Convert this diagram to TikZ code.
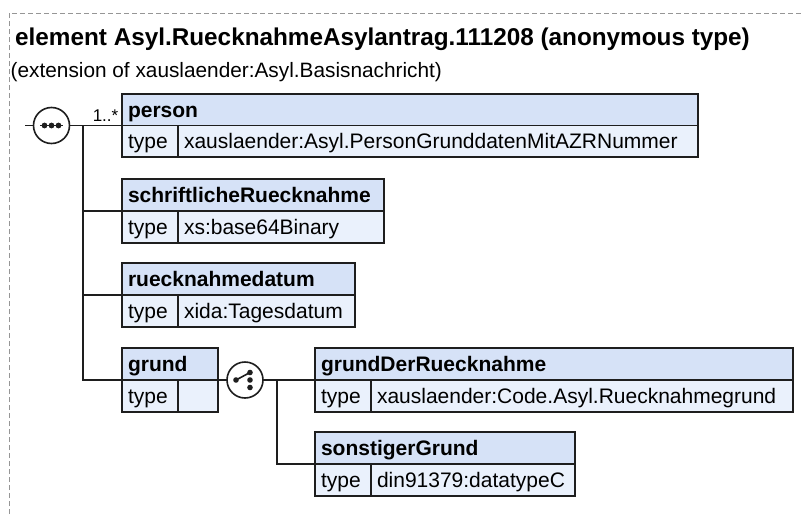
\documentclass[tikz,border=0pt]{standalone}
\usepackage{fontspec}
\setmainfont{Liberation Sans}
\usetikzlibrary{calc}
\definecolor{hdrfill}{RGB}{214,226,247}
\definecolor{typfill}{RGB}{234,241,252}
\definecolor{bordc}{RGB}{30,30,30}
\definecolor{dashc}{RGB}{150,150,150}
\tikzset{
  cell/.style={draw=bordc, line width=1.5pt, rectangle, inner xsep=6pt, inner ysep=0pt,
    outer sep=0pt, anchor=north west, align=left,
    font=\fontsize{21}{24}\selectfont, text height=17.5pt, text depth=2.5pt},
  hdr/.style={cell, fill=hdrfill, font=\fontsize{21}{24}\selectfont\bfseries},
  typ/.style={cell, fill=typfill},
  conn/.style={line width=1.4pt, draw=bordc},
  icon/.style={circle, draw=bordc, line width=1.6pt, fill=white, minimum size=36pt,
    inner sep=0pt, outer sep=0pt},
  dotmark/.style={fill=bordc},
}
\begin{document}
\begin{tikzpicture}[x=1pt,y=-1pt]
\fill[white] (0,0) rectangle (803,514);
\useasboundingbox (0,0) rectangle (803,514);
% frame
\draw[dashc, line width=1pt, dash pattern=on 5pt off 3pt] (9,514) -- (9,13) -- (803,13);
% titles
\node[anchor=base west, inner sep=0pt, font=\fontsize{24.3}{28}\selectfont\bfseries] (title) at (15,45)
  {element Asyl.RuecknahmeAsylantrag.111208 (anonymous type)};
\node[anchor=base west, inner sep=0pt, font=\fontsize{20.8}{24}\selectfont] (subtitle) at (10.5,77)
  {(extension of xauslaender:Asyl.Basisnachricht)};

% person
\node[hdr, minimum height=31.5pt, text width=564pt] (person) at (122,94) {person};
\node[typ, minimum height=31.5pt, text width=44pt] (person-t) at (person.south west) {type};
\node[typ, minimum height=31.5pt, text width=508pt] (person-v) at (person-t.north east) {xauslaender:Asyl.PersonGrunddatenMitAZRNummer};
% schriftlicheRuecknahme
\node[hdr, minimum height=32pt, text width=250pt] (schr) at (122,179) {schriftlicheRuecknahme};
\node[typ, minimum height=32pt, text width=44pt] (schr-t) at (schr.south west) {type};
\node[typ, minimum height=32pt, text width=194pt] (schr-v) at (schr-t.north east) {xs:base64Binary};
% ruecknahmedatum
\node[hdr, minimum height=32pt, text width=221pt] (rueck) at (122,263) {ruecknahmedatum};
\node[typ, minimum height=32pt, text width=44pt] (rueck-t) at (rueck.south west) {type};
\node[typ, minimum height=32pt, text width=165pt] (rueck-v) at (rueck-t.north east) {xida:Tagesdatum};
% grund
\node[hdr, minimum height=32pt, text width=84pt] (grund) at (122,348) {grund};
\node[typ, minimum height=32pt, text width=44pt] (grund-t) at (grund.south west) {type};
\node[typ, minimum height=32pt, text width=28pt] (grund-v) at (grund-t.north east) {};
% grundDerRuecknahme
\node[hdr, minimum height=32pt, text width=466pt] (gdr) at (315,348) {grundDerRuecknahme};
\node[typ, minimum height=32pt, text width=44pt] (gdr-t) at (gdr.south west) {type};
\node[typ, minimum height=32pt, text width=410pt] (gdr-v) at (gdr-t.north east) {xauslaender:Code.Asyl.Ruecknahmegrund};
% sonstigerGrund
\node[hdr, minimum height=32pt, text width=248pt] (son) at (315,432) {sonstigerGrund};
\node[typ, minimum height=32pt, text width=44pt] (son-t) at (son.south west) {type};
\node[typ, minimum height=32pt, text width=192pt] (son-v) at (son-t.north east) {din91379:datatypeC};

% sequence compositor
\coordinate (start) at (25,125.5);
\node[icon] (seq) at (51.5,125.5) {};
\draw[line width=1.4pt, bordc] ($(seq.center)+(-11.5,0)$) -- ($(seq.center)+(11.5,0)$);
\fill[dotmark] ($(seq.center)+(-7,0)$) circle (2.9pt);
\fill[dotmark] (seq.center) circle (2.9pt);
\fill[dotmark] ($(seq.center)+(7,0)$) circle (2.9pt);
\draw[conn] (start) -- (seq.west);
\draw[conn] (seq.east) -- (person.south west);
\coordinate (j1) at (83,125.5);
\draw[conn] (j1) |- (schr.south west);
\draw[conn] (j1) |- (rueck.south west);
\draw[conn] (j1) |- (grund.south west);
\node[anchor=base east, inner sep=0pt, font=\fontsize{17}{20}\selectfont] (mult) at (118.5,121.5) {1..*};

% choice compositor
\node[icon] (cho) at (245,380) {};
\draw[line width=1.6pt, bordc] ($(cho.center)+(-9,0)$) -- ($(cho.center)+(5,-7.5)$);
\fill[dotmark] ($(cho.center)+(-9,0)$) circle (2.8pt);
\fill[dotmark] ($(cho.center)+(5,-7.5)$) circle (2.8pt);
\fill[dotmark] ($(cho.center)+(5,0)$) circle (2.8pt);
\fill[dotmark] ($(cho.center)+(5,7.5)$) circle (2.8pt);
\draw[conn] (grund.south east) -- (cho.west);
\draw[conn] (cho.east) -- (gdr.south west);
\coordinate (j2) at (277,380);
\draw[conn] (j2) |- (son.south west);
\end{tikzpicture}
\end{document}
